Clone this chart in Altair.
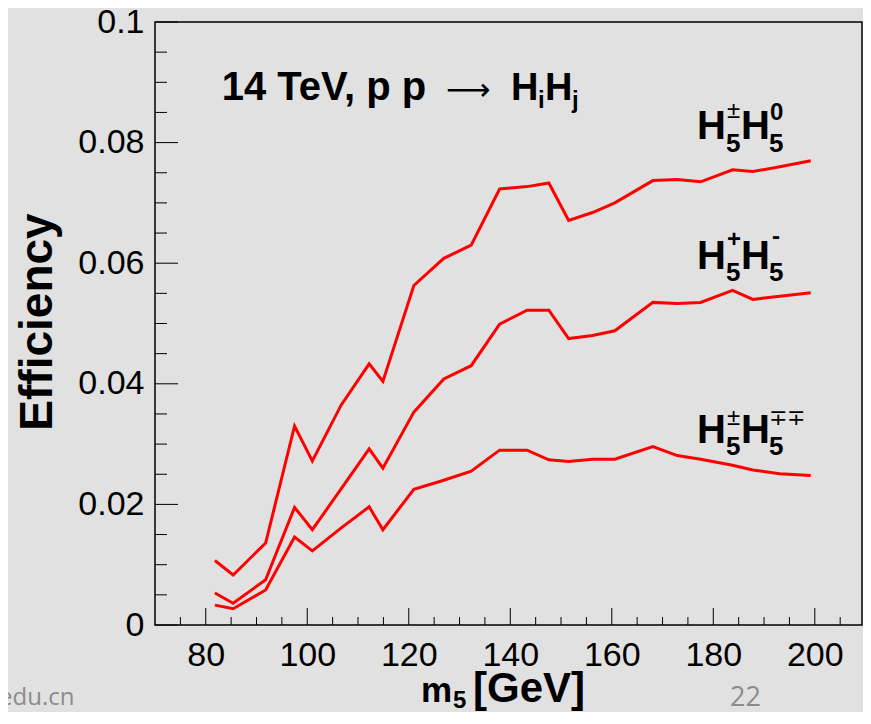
import altair as alt
import pandas as pd

# ---- data ----
m5 = [81.8, 85.4, 91.8, 97.5, 101.0, 106.7, 112.2, 114.9, 121.0, 126.9, 132.3, 137.9,
      143.3, 147.6, 151.5, 156.2, 160.6, 168.1, 172.9, 177.5, 183.8, 187.8, 193.1, 199.2]
eff_pm_0 = [0.0107, 0.0083, 0.0136, 0.0330, 0.0272, 0.0365, 0.0433, 0.0404, 0.0563, 0.0608,
            0.0630, 0.0723, 0.0727, 0.0733, 0.0671, 0.0684, 0.0700, 0.0737, 0.0739, 0.0735,
            0.0755, 0.0752, 0.0760, 0.0770]
eff_p_m = [0.0053, 0.0036, 0.0075, 0.0195, 0.0158, 0.0226, 0.0292, 0.0260, 0.0353, 0.0408,
           0.0430, 0.0499, 0.0522, 0.0522, 0.0475, 0.0480, 0.0488, 0.0535, 0.0533, 0.0535,
           0.0555, 0.0540, 0.0545, 0.0551]
eff_pm_mpmp = [0.0033, 0.0027, 0.0058, 0.0146, 0.0123, 0.0161, 0.0196, 0.0158, 0.0225, 0.0240,
               0.0255, 0.0290, 0.0290, 0.0274, 0.0271, 0.0275, 0.0275, 0.0296, 0.0281, 0.0275,
               0.0265, 0.0257, 0.0251, 0.0248]
series_names = ["H5±H50", "H5+H5-", "H5±H5∓∓"]

x_labels = [80, 100, 120, 140, 160, 180, 200]
x_minor = [v for v in range(75, 210, 5) if v % 20 != 0]
y_labels = [0, 0.02, 0.04, 0.06, 0.08, 0.1]
y_minor = [round(i * 0.005, 3) for i in range(1, 20) if i % 4 != 0]

W, H = 707, 603
FONT = "Liberation Sans"

rows = []
for name, vals in zip(series_names, [eff_pm_0, eff_p_m, eff_pm_mpmp]):
    for xv, yv in zip(m5, vals):
        rows.append({"m5": xv, "eff": yv, "series": name})
df = pd.DataFrame(rows)

xscale = alt.Scale(domain=[70, 209.3], nice=False, zero=False)
yscale = alt.Scale(domain=[0, 0.1], nice=False, zero=False)

xaxis = alt.Axis(values=x_labels, title=None, domain=False, ticks=False, grid=False,
                 labelFont=FONT, labelFontSize=34, labelColor="#000000",
                 labelPadding=13, labelOverlap=False, labelFlush=False)
yaxis = alt.Axis(values=y_labels, format="~g", title=None, domain=False, ticks=False,
                 grid=False, labelFont=FONT, labelFontSize=34, labelColor="#000000",
                 labelPadding=11, labelOverlap=False, labelFlush=False)

lines = alt.Chart(df).mark_line(color="#ff0000", strokeWidth=3).encode(
    x=alt.X("m5:Q", scale=xscale, axis=xaxis),
    y=alt.Y("eff:Q", scale=yscale, axis=yaxis),
    detail="series:N",
)


def xticks(vals, length):
    return alt.Chart(pd.DataFrame({"v": vals})).mark_rule(color="#000000", strokeWidth=1).encode(
        x=alt.X("v:Q", scale=xscale, axis=xaxis), y=alt.value(H), y2=alt.value(H - length))


def yticks(vals, length):
    return alt.Chart(pd.DataFrame({"v": vals})).mark_rule(color="#000000", strokeWidth=1).encode(
        y=alt.Y("v:Q", scale=yscale, axis=yaxis), x=alt.value(0), x2=alt.value(length))


def txt(s, x, y, size, weight="bold", color="#000000", angle=0, align="left", font=FONT):
    return alt.Chart(pd.DataFrame({"t": [s]})).mark_text(
        align=align, baseline="alphabetic", fontSize=size, fontWeight=weight,
        font=font, color=color, angle=angle).encode(
        text="t:N", x=alt.value(x), y=alt.value(y))


texts = [
    # header
    txt("14 TeV, p p", 66.7, 78, 40),
    txt("⟶", 291, 78, 31, weight="normal", font="DejaVu Sans"),
    txt("H", 356, 78, 38), txt("i", 383, 86, 24),
    txt("H", 390, 78, 38), txt("j", 417, 86, 24),
    # H5± H50
    txt("H", 542, 117, 40), txt("5", 571, 130, 26), txt("±", 572, 96, 24, weight="normal"),
    txt("H", 586, 117, 40), txt("5", 614, 130, 26), txt("0", 615, 98, 24),
    # H5+ H5-
    txt("H", 542, 247, 40), txt("5", 571, 259, 26), txt("+", 572, 225, 24),
    txt("H", 586, 247, 40), txt("5", 614, 259, 26), txt("-", 617, 222, 24),
    # H5± H5∓∓
    txt("H", 542, 421, 40), txt("5", 571, 433, 26), txt("±", 572, 403, 24, weight="normal"),
    txt("H", 586, 421, 40), txt("5", 614, 433, 26), txt("∓∓", 614, 403, 22, weight="normal"),
    # axis titles
    txt("Efficiency", -103, 300, 46, angle=270, align="center"),
    txt("m", 266, 680, 35), txt("5", 298, 686, 24), txt("[GeV]", 318, 680, 42),
    # slide remnants
    txt("edu.cn", -156, 683, 24, weight="normal", color="#8c8c8c", font="Open Sans"),
    txt("22", 575, 684, 27, weight="normal", color="#8c8c8c", font="Open Sans"),
]

chart = alt.layer(
    lines,
    xticks(x_labels, 17), xticks(x_minor, 8),
    yticks(y_labels, 23), yticks(y_minor, 12),
    *texts,
).properties(
    width=W, height=H,
    padding={"left": 147, "top": 14, "right": 1, "bottom": 87},
    autosize=alt.AutoSizeParams(type="none"),
    background="#e1e1e1",
).configure_view(stroke="#000000", strokeWidth=1.5)

chart.save("out.html", embed_options={"renderer": "svg", "actions": False})
